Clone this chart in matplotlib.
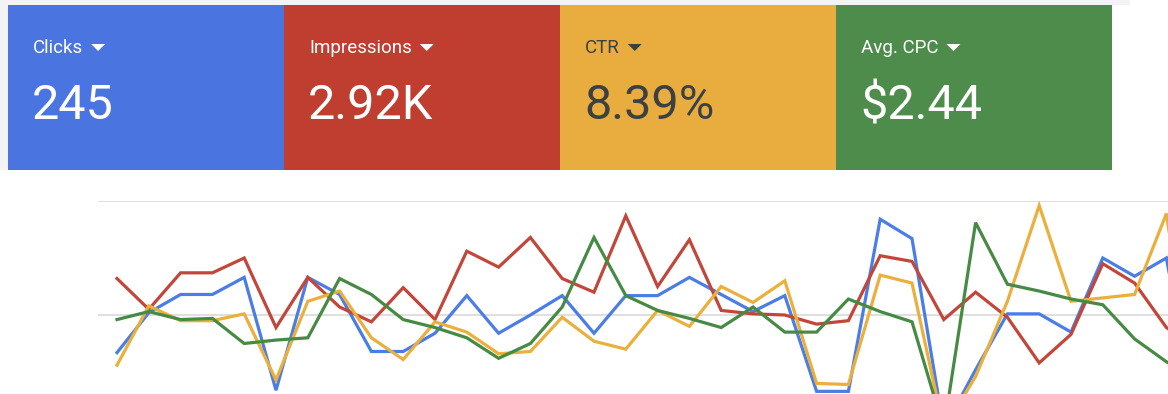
import matplotlib
matplotlib.use("Agg")
import matplotlib.pyplot as plt
from matplotlib.patches import Rectangle, Polygon

plt.rcParams["font.family"] = ["Roboto", "DejaVu Sans"]

# card content
card_titles = ["Clicks", "Impressions", "CTR", "Avg. CPC"]
card_values = ["245", "2.92K", "8.39%", "$2.44"]
card_colors = ["#4a74e0", "#bf3e30", "#e8ad3e", "#4e8c4b"]
card_text = ["white", "white", "#3c4043", "white"]

# daily series, scaled so the grid lines sit at 0, 1 and 2
days = list(range(35))
clicks = [0.67, 1.02, 1.18, 1.18, 1.33, 0.34, 1.33, 1.18, 0.68, 0.68,
          0.84, 1.17, 0.84, 1.00, 1.17, 0.84, 1.17, 1.17, 1.33, 1.18,
          1.03, 1.17, 0.33, 0.33, 1.84, 1.67, 0.00, 0.52, 1.01, 1.01,
          0.85, 1.50, 1.34, 1.50, 0.00]
impressions = [1.32, 1.05, 1.37, 1.37, 1.50, 0.89, 1.33, 1.07, 0.94, 1.24,
               0.96, 1.56, 1.42, 1.68, 1.32, 1.20, 1.87, 1.25, 1.66, 1.04,
               1.01, 1.00, 0.92, 0.95, 1.52, 1.47, 0.96, 1.20, 0.98, 0.58,
               0.83, 1.45, 1.28, 0.89, 0.70]
ctr = [0.56, 1.08, 0.95, 0.95, 1.01, 0.43, 1.12, 1.21, 0.80, 0.61,
       0.94, 0.85, 0.66, 0.68, 0.98, 0.77, 0.70, 1.04, 0.90, 1.25,
       1.11, 1.30, 0.40, 0.39, 1.35, 1.28, 0.00, 0.46, 1.12, 1.96,
       1.12, 1.15, 1.18, 1.89, 0.00]
cpc = [0.96, 1.03, 0.96, 0.97, 0.75, 0.78, 0.80, 1.32, 1.18, 0.96,
       0.89, 0.80, 0.62, 0.75, 1.07, 1.68, 1.17, 1.04, 0.97, 0.89,
       1.07, 0.85, 0.85, 1.14, 1.03, 0.94, 0.00, 1.81, 1.27, 1.21,
       1.14, 1.09, 0.79, 0.59, 0.43]

series = [
    (clicks, "#4a7de6"),
    (impressions, "#c2463a"),
    (ctr, "#ebb03c"),
    (cpc, "#468a44"),
]

W, H = 1168, 394
fig = plt.figure(figsize=(W / 100, H / 100), dpi=100)
fig.patch.set_facecolor("white")

# overlay in pixel coordinates for the header cards
bg = fig.add_axes([0, 0, 1, 1])
bg.set_xlim(0, W)
bg.set_ylim(H, 0)
bg.axis("off")
bg.add_patch(Rectangle((0, 0), 1130, 5, color="#f1f3f4", lw=0))
bg.add_patch(Rectangle((0, 0), 8, 170, color="#f1f3f4", lw=0))

renderer = fig.canvas.get_renderer()
card_w = 276
for k, (title, value, color, tc) in enumerate(zip(card_titles, card_values, card_colors, card_text)):
    x0 = 8 + k * card_w
    bg.add_patch(Rectangle((x0, 5), card_w, 165, color=color, lw=0))
    t = bg.text(x0 + 25, 48, title, color=tc, fontsize=13.5, va="center", ha="left")
    bg.text(x0 + 24, 106, value, color=tc, fontsize=35, va="center", ha="left")
    # dropdown arrow just after the title
    bb = t.get_window_extent(renderer)
    xe = bg.transData.inverted().transform((bb.x1, 0))[0]
    ax_ = xe + 8
    bg.add_patch(Polygon([(ax_, 44), (ax_ + 14, 44), (ax_ + 7, 51)], closed=True, color=tc, lw=0))

# line chart, axes extends past the bottom and right edges like the screenshot
left_px, right_px, top_px, bottom_px = 98, 1200, 201, 429
x0_px, step = 117, 31.8
ax = fig.add_axes([left_px / W, (H - bottom_px) / H,
                   (right_px - left_px) / W, (bottom_px - top_px) / H])
ax.set_xlim((left_px - x0_px) / step, (right_px - x0_px) / step)
ax.set_ylim(0, 2)
for spine in ax.spines.values():
    spine.set_visible(False)
ax.set_xticks([])
ax.set_yticks([0, 1, 2])
ax.tick_params(left=False, labelleft=False)
ax.grid(axis="y", color="#dcdcdc", linewidth=1.3)
ax.set_facecolor("none")
for values, color in series:
    ax.plot(days, values, color=color, linewidth=2.3, solid_joinstyle="miter")

fig.savefig("out.png", dpi=100, facecolor="white")
